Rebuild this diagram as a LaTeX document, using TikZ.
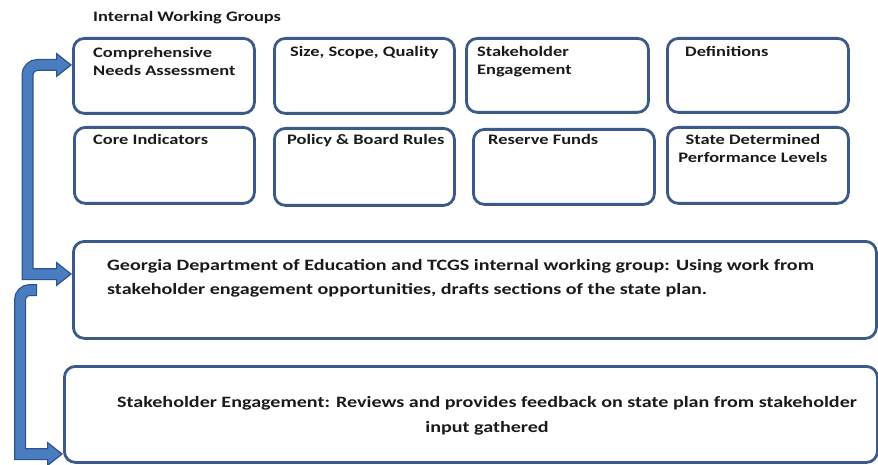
\documentclass[tikz,border=0pt]{standalone}
\usepackage{fontspec}
\newfontfamily\grpfont{Carlito}[FakeStretch=1.27]
\usetikzlibrary{arrows.meta}
\definecolor{boxline}{HTML}{3C5A88}
\definecolor{arrowfill}{HTML}{4A7CC0}
\definecolor{arrowline}{HTML}{2F528F}
\definecolor{txt}{HTML}{1A1A1A}

\tikzset{
  grp/.style={draw=boxline,line width=2.8pt,rounded corners=11pt,inner sep=0pt,anchor=north west},
  lbl/.style={text=txt,font=\grpfont\bfseries\fontsize{14.5}{18}\selectfont,inner sep=0pt,anchor=north west,align=left},
  biglbl/.style={lbl,font=\grpfont\bfseries\fontsize{15.8}{#1}\selectfont},
  arrowcase/.style={draw=arrowline,line width=12pt},
  arrowcore/.style={draw=arrowfill,line width=9.5pt}
}

\begin{document}
\begin{tikzpicture}[x=1pt,y=-1pt,>={Triangle[length=16pt,width=25pt,fill=arrowfill,color=arrowline,line width=1.2pt]}]
\useasboundingbox (0,0) rectangle (878,465);

\node[lbl] (title) at (93,11) {Internal Working Groups};

\node[grp,minimum width=181pt,minimum height=75pt] (cna) at (72,37) {};
\node[grp,minimum width=180pt,minimum height=75pt] (ssq) at (273,37) {};
\node[grp,minimum width=182pt,minimum height=74pt] (se) at (465,37) {};
\node[grp,minimum width=181pt,minimum height=74pt] (def) at (666,37) {};

\node[grp,minimum width=180pt,minimum height=76pt] (ci) at (73,126) {};
\node[grp,minimum width=180pt,minimum height=77pt] (pbr) at (273,127) {};
\node[grp,minimum width=181pt,minimum height=75pt] (rf) at (472,128) {};
\node[grp,minimum width=181pt,minimum height=76pt] (sdpl) at (666,126) {};

\node[grp,minimum width=803pt,minimum height=97pt] (geo) at (72,240) {};
\node[grp,minimum width=813pt,minimum height=96pt] (sh) at (63,365) {};

\node[lbl] (cna-t) at (93,47) {Comprehensive\\Needs Assessment};
\node[lbl] (ssq-t) at (290,46) {Size, Scope, Quality};
\node[lbl] (se-t) at (477,46) {Stakeholder\\Engagement};
\node[lbl] (def-t) at (685,46) {Definitions};
\node[lbl] (ci-t) at (93,134) {Core Indicators};
\node[lbl] (pbr-t) at (287,134) {Policy \& Board Rules};
\node[lbl] (rf-t) at (488,134) {Reserve Funds};
\node[lbl,anchor=north,align=center] (sdpl-t) at (753,134) {State Determined\\Performance Levels};
\node[biglbl=24] (geo-t) at (107,259)
  {Georgia Department of Education and TCGS internal working group: Using work from\\stakeholder engagement opportunities, drafts sections of the state plan.};
\node[biglbl=25,anchor=north,align=center] (sh-t) at (487,396)
  {Stakeholder Engagement: Reviews and provides feedback on state plan from stakeholder\\input gathered};

\coordinate (k1) at (27.5,65);
\coordinate (k2) at (27.5,274);
\coordinate (k3) at (37,290);
\coordinate (k4) at (20,290);
\coordinate (k5) at (20,454);

% working groups <-> drafting group
\draw[arrowcase,<->] (cna.west |- k1) [rounded corners=10pt] -- (k1) [sharp corners] -- (k2) -- (geo.west |- k2);
\draw[arrowcore,shorten <=13pt,shorten >=13pt] (cna.west |- k1) [rounded corners=10pt] -- (k1) [sharp corners] -- (k2) -- (geo.west |- k2);
% drafting group -> review
\draw[arrowcase,->] (k3) [rounded corners=10pt] -- (k4) [sharp corners] -- (k5) -- (sh.west |- k5);
\draw[arrowcore,shorten <=1.2pt,shorten >=13pt] (k3) [rounded corners=10pt] -- (k4) [sharp corners] -- (k5) -- (sh.west |- k5);
\end{tikzpicture}
\end{document}
